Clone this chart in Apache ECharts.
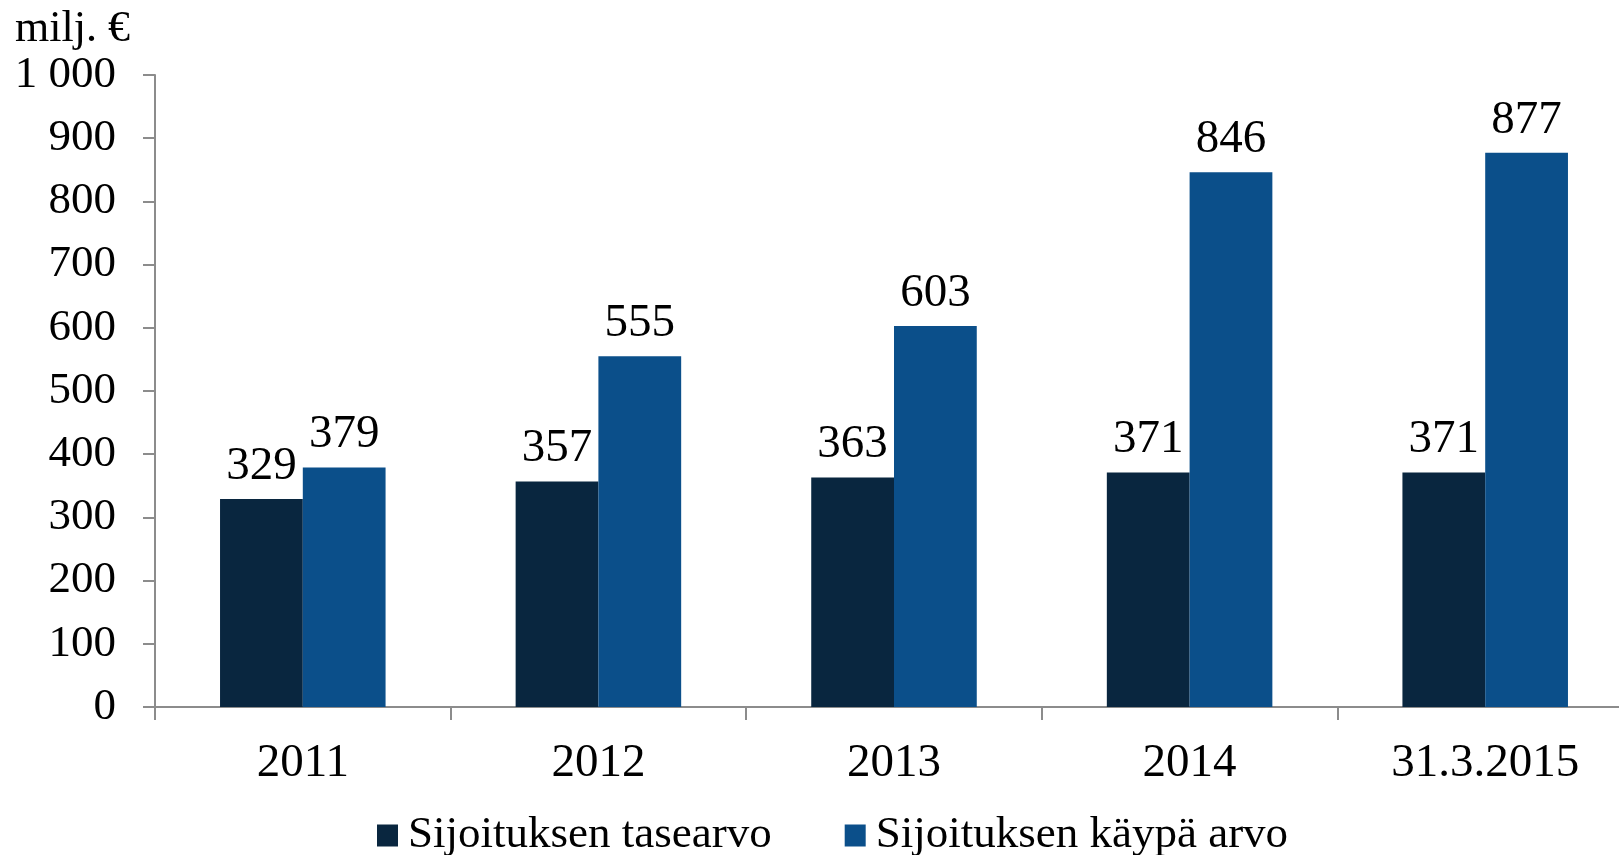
<!DOCTYPE html>
<html><head><meta charset="utf-8">
<script src="https://cdn.jsdelivr.net/npm/echarts@6/dist/echarts.min.js"></script>
<style>html,body{margin:0;padding:0;background:#fff}#c{width:1619px;height:855px}</style>
</head><body><div id="c"></div>
<script>
const categories = ['2011', '2012', '2013', '2014', '31.3.2015'];
const seriesNames = ['Sijoituksen tasearvo', 'Sijoituksen käypä arvo'];
const tasearvo = [329, 357, 363, 371, 371];
const kaypaArvo = [379, 555, 603, 846, 877];
const yTicks = [0, 1000, 100];
const unitLabel = 'milj. €';

const FONT = 'Liberation Serif';
const chart = echarts.init(document.getElementById('c'), null, {renderer: 'canvas'});
const fmtY = v => v >= 1000 ? String(v).replace(/(\d)(?=(\d{3})+$)/g, '$1 ') : String(v);
const labelStyle = {show: true, position: 'top', distance: 9, color: '#000', fontFamily: FONT, fontSize: 47};
chart.setOption({
  animation: false,
  backgroundColor: '#fff',
  graphic: [{type: 'text', left: 15, top: 7, style: {text: unitLabel, font: '44px "Liberation Serif"', fill: '#000'}}],
  grid: {left: 155, top: 75, bottom: 148, width: 1478, containLabel: false, outerBoundsMode: 'none'},
  legend: {
    data: seriesNames, left: 372, top: 808, itemWidth: 21, itemHeight: 22, itemGap: 73, icon: 'rect',
    textStyle: {fontFamily: FONT, fontSize: 45, color: '#000', padding: [0, 0, 0, 5]}
  },
  xAxis: {
    type: 'category', data: categories,
    axisLine: {lineStyle: {color: '#8c8c8c', width: 2}},
    axisTick: {show: true, length: 13, lineStyle: {color: '#8c8c8c', width: 2}},
    axisLabel: {color: '#000', fontFamily: FONT, fontSize: 47, margin: 33}
  },
  yAxis: {
    type: 'value', min: yTicks[0], max: yTicks[1], interval: yTicks[2],
    splitLine: {show: false},
    axisLine: {show: true, lineStyle: {color: '#8c8c8c', width: 2}},
    axisTick: {show: true, length: 12, lineStyle: {color: '#8c8c8c', width: 2}},
    axisLabel: {color: '#000', fontFamily: FONT, fontSize: 45, margin: 39, formatter: fmtY}
  },
  series: [
    {name: seriesNames[0], type: 'bar', data: tasearvo, barWidth: '28%', barGap: '0%', itemStyle: {color: '#09263f'}, label: labelStyle},
    {name: seriesNames[1], type: 'bar', data: kaypaArvo, barWidth: '28%', barGap: '0%', itemStyle: {color: '#0b4f8a'}, label: labelStyle}
  ]
});
</script></body></html>
